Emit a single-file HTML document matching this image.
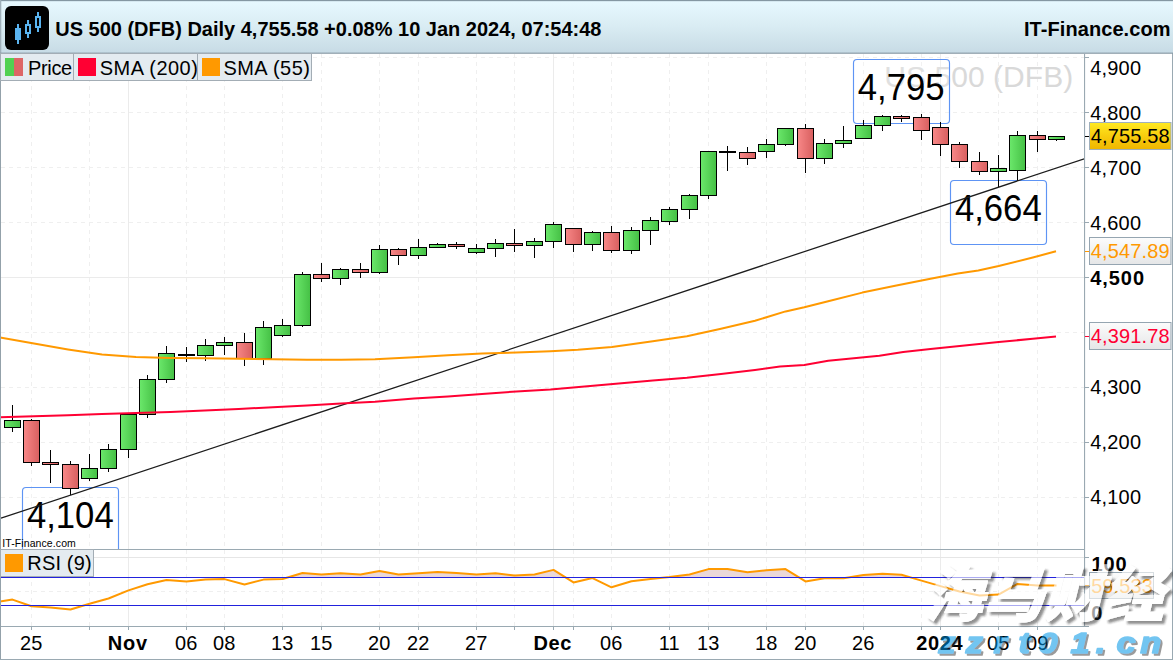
<!DOCTYPE html>
<html lang="en"><head><meta charset="utf-8"><title>US 500 (DFB) Daily</title>
<style>
html,body{margin:0;padding:0;background:#fff;}
body{width:1173px;height:660px;overflow:hidden;position:relative;font-family:"Liberation Sans", "Noto Sans CJK SC", sans-serif;}
svg{display:block;position:absolute;left:0;top:0;}
svg text{font-family:"Liberation Sans", "Noto Sans CJK SC", sans-serif;white-space:pre;}
</style></head><body>
<svg width="1173" height="660" viewBox="0 0 1173 660">
<defs>
<linearGradient id="hdr" x1="0" y1="0" x2="0" y2="1"><stop offset="0" stop-color="#e7f9ff"/><stop offset="0.5" stop-color="#d9ecf3"/><stop offset="1" stop-color="#c7dbe5"/></linearGradient>
<linearGradient id="gg" x1="0" y1="0" x2="1" y2="0"><stop offset="0" stop-color="#6be86b"/><stop offset="1" stop-color="#45c045"/></linearGradient>
<linearGradient id="rg" x1="0" y1="0" x2="1" y2="0"><stop offset="0" stop-color="#f88888"/><stop offset="1" stop-color="#d85f5f"/></linearGradient>
<linearGradient id="gold" x1="0" y1="0" x2="0" y2="1"><stop offset="0" stop-color="#ffea22"/><stop offset="0.5" stop-color="#f8cd0e"/><stop offset="1" stop-color="#efb600"/></linearGradient>
<linearGradient id="lbl" x1="0" y1="0" x2="0" y2="1"><stop offset="0" stop-color="#fcfcfc"/><stop offset="1" stop-color="#e5e6e7"/></linearGradient>
<clipPath id="mainclip"><rect x="0" y="54" width="1085" height="495"/></clipPath>
<clipPath id="rsiclip"><rect x="0" y="550" width="1085" height="77"/></clipPath>
<filter id="ds" x="-5%" y="-10%" width="115%" height="130%"><feGaussianBlur in="SourceAlpha" stdDeviation="1" result="b"/><feOffset in="b" dx="2.5" dy="2.5" result="o"/><feComposite in="o" in2="SourceAlpha" operator="out" result="so"/><feFlood flood-color="#202020" flood-opacity="0.5"/><feComposite in2="so" operator="in" result="sh"/><feFlood flood-color="#ffffff" flood-opacity="0.62"/><feComposite in2="SourceAlpha" operator="in" result="wt"/><feMerge><feMergeNode in="sh"/><feMergeNode in="wt"/></feMerge></filter>
<filter id="ds2" x="-5%" y="-10%" width="115%" height="140%"><feGaussianBlur in="SourceAlpha" stdDeviation="0.7"/><feOffset dx="1.6" dy="1.6" result="o"/><feFlood flood-color="#333" flood-opacity="0.9"/><feComposite in2="o" operator="in"/><feMerge><feMergeNode/><feMergeNode in="SourceGraphic"/></feMerge></filter>
</defs>
<rect x="0" y="0" width="1173" height="660" fill="#fff"/>

<g id="grid" shape-rendering="crispEdges">
<line x1="1" y1="57.5" x2="1085" y2="57.5" stroke="#efefef" stroke-width="1" stroke-dasharray="4 4"/>
<line x1="1" y1="112.5" x2="1085" y2="112.5" stroke="#efefef" stroke-width="1" stroke-dasharray="4 4"/>
<line x1="1" y1="167.5" x2="1085" y2="167.5" stroke="#efefef" stroke-width="1" stroke-dasharray="4 4"/>
<line x1="1" y1="222.5" x2="1085" y2="222.5" stroke="#efefef" stroke-width="1" stroke-dasharray="4 4"/>
<line x1="1" y1="277.5" x2="1085" y2="277.5" stroke="#ebebeb" stroke-width="1"/>
<line x1="1" y1="332.5" x2="1085" y2="332.5" stroke="#efefef" stroke-width="1" stroke-dasharray="4 4"/>
<line x1="1" y1="387.5" x2="1085" y2="387.5" stroke="#efefef" stroke-width="1" stroke-dasharray="4 4"/>
<line x1="1" y1="442.5" x2="1085" y2="442.5" stroke="#efefef" stroke-width="1" stroke-dasharray="4 4"/>
<line x1="1" y1="497.5" x2="1085" y2="497.5" stroke="#efefef" stroke-width="1" stroke-dasharray="4 4"/>
<line x1="31.5" y1="54" x2="31.5" y2="627" stroke="#efefef" stroke-width="1" stroke-dasharray="4 4"/>
<line x1="89.5" y1="54" x2="89.5" y2="627" stroke="#efefef" stroke-width="1" stroke-dasharray="4 4"/>
<line x1="128.5" y1="54" x2="128.5" y2="627" stroke="#ebebeb" stroke-width="1"/>
<line x1="186.5" y1="54" x2="186.5" y2="627" stroke="#efefef" stroke-width="1" stroke-dasharray="4 4"/>
<line x1="224.5" y1="54" x2="224.5" y2="627" stroke="#efefef" stroke-width="1" stroke-dasharray="4 4"/>
<line x1="282.5" y1="54" x2="282.5" y2="627" stroke="#efefef" stroke-width="1" stroke-dasharray="4 4"/>
<line x1="321.5" y1="54" x2="321.5" y2="627" stroke="#efefef" stroke-width="1" stroke-dasharray="4 4"/>
<line x1="379.5" y1="54" x2="379.5" y2="627" stroke="#efefef" stroke-width="1" stroke-dasharray="4 4"/>
<line x1="418.5" y1="54" x2="418.5" y2="627" stroke="#efefef" stroke-width="1" stroke-dasharray="4 4"/>
<line x1="476.5" y1="54" x2="476.5" y2="627" stroke="#efefef" stroke-width="1" stroke-dasharray="4 4"/>
<line x1="514.5" y1="54" x2="514.5" y2="627" stroke="#efefef" stroke-width="1" stroke-dasharray="4 4"/>
<line x1="553.5" y1="54" x2="553.5" y2="627" stroke="#ebebeb" stroke-width="1"/>
<line x1="573.5" y1="54" x2="573.5" y2="627" stroke="#efefef" stroke-width="1" stroke-dasharray="4 4"/>
<line x1="611.5" y1="54" x2="611.5" y2="627" stroke="#efefef" stroke-width="1" stroke-dasharray="4 4"/>
<line x1="669.5" y1="54" x2="669.5" y2="627" stroke="#efefef" stroke-width="1" stroke-dasharray="4 4"/>
<line x1="708.5" y1="54" x2="708.5" y2="627" stroke="#efefef" stroke-width="1" stroke-dasharray="4 4"/>
<line x1="766.5" y1="54" x2="766.5" y2="627" stroke="#efefef" stroke-width="1" stroke-dasharray="4 4"/>
<line x1="805.5" y1="54" x2="805.5" y2="627" stroke="#efefef" stroke-width="1" stroke-dasharray="4 4"/>
<line x1="863.5" y1="54" x2="863.5" y2="627" stroke="#efefef" stroke-width="1" stroke-dasharray="4 4"/>
<line x1="921.5" y1="54" x2="921.5" y2="627" stroke="#efefef" stroke-width="1" stroke-dasharray="4 4"/>
<line x1="940.5" y1="54" x2="940.5" y2="627" stroke="#ebebeb" stroke-width="1"/>
<line x1="998.5" y1="54" x2="998.5" y2="627" stroke="#efefef" stroke-width="1" stroke-dasharray="4 4"/>
<line x1="1037.5" y1="54" x2="1037.5" y2="627" stroke="#efefef" stroke-width="1" stroke-dasharray="4 4"/>
<line x1="1" y1="557.5" x2="1085" y2="557.5" stroke="#e6e6e6" stroke-width="1"/>
<line x1="1" y1="591.5" x2="1085" y2="591.5" stroke="#efefef" stroke-width="1" stroke-dasharray="4 4"/>
</g>
<text transform="translate(884.3,86.6) scale(1,1)" font-size="30" fill="#d9d9d9" letter-spacing="0.05">US 500 (DFB)</text>
<g clip-path="url(#mainclip)">
<rect x="853.5" y="59.5" width="96.0" height="64.0" rx="3.5" ry="3.5" fill="#fff" fill-opacity="0.2" stroke="#5e94f4" stroke-width="1.15"/>
<text transform="translate(857.7,99.5) scale(1,1.041)" font-size="34.7" fill="#000">4,795</text>
<rect x="950.5" y="180.5" width="96.0" height="64.0" rx="3.5" ry="3.5" fill="#fff" fill-opacity="0.2" stroke="#5e94f4" stroke-width="1.15"/>
<text transform="translate(954.9,220.5) scale(1,1.041)" font-size="34.7" fill="#000">4,664</text>
<rect x="22.5" y="487.5" width="96.0" height="72.5" rx="3.5" ry="3.5" fill="#fff" fill-opacity="0.2" stroke="#5e94f4" stroke-width="1.15"/>
<text transform="translate(26.9,527.6) scale(1,1.041)" font-size="34.7" fill="#000">4,104</text>
</g>
<g id="candles" shape-rendering="crispEdges" stroke="#000" stroke-width="1">
<line x1="12.5" y1="405" x2="12.5" y2="432"/>
<rect x="4.5" y="420.5" width="16" height="7" fill="url(#gg)"/>
<line x1="31.5" y1="419" x2="31.5" y2="466"/>
<rect x="23.5" y="420.5" width="16" height="42" fill="url(#rg)"/>
<line x1="50.5" y1="450" x2="50.5" y2="483"/>
<rect x="42.5" y="462.5" width="16" height="2" fill="url(#rg)"/>
<line x1="70.5" y1="461" x2="70.5" y2="495"/>
<rect x="62.5" y="464.5" width="16" height="24" fill="url(#rg)"/>
<line x1="89.5" y1="454" x2="89.5" y2="481"/>
<rect x="81.5" y="468.5" width="16" height="10" fill="url(#gg)"/>
<line x1="108.5" y1="444" x2="108.5" y2="472"/>
<rect x="100.5" y="449.5" width="16" height="19" fill="url(#gg)"/>
<line x1="128.5" y1="414" x2="128.5" y2="458"/>
<rect x="120.5" y="414.5" width="16" height="35" fill="url(#gg)"/>
<line x1="147.5" y1="375" x2="147.5" y2="418"/>
<rect x="139.5" y="379.5" width="16" height="35" fill="url(#gg)"/>
<line x1="166.5" y1="346" x2="166.5" y2="383"/>
<rect x="158.5" y="353.5" width="16" height="26" fill="url(#gg)"/>
<line x1="186.5" y1="347" x2="186.5" y2="362"/>
<line x1="178" y1="355" x2="195" y2="355" stroke-width="2"/>
<line x1="205.5" y1="339" x2="205.5" y2="361"/>
<rect x="197.5" y="345.5" width="16" height="10" fill="url(#gg)"/>
<line x1="224.5" y1="337" x2="224.5" y2="355"/>
<rect x="216.5" y="342.5" width="16" height="3" fill="url(#gg)"/>
<line x1="244.5" y1="333" x2="244.5" y2="366"/>
<rect x="236.5" y="342.5" width="16" height="16" fill="url(#rg)"/>
<line x1="263.5" y1="321" x2="263.5" y2="365"/>
<rect x="255.5" y="327.5" width="16" height="31" fill="url(#gg)"/>
<line x1="282.5" y1="319" x2="282.5" y2="337"/>
<rect x="274.5" y="325.5" width="16" height="10" fill="url(#gg)"/>
<line x1="302.5" y1="272" x2="302.5" y2="327"/>
<rect x="294.5" y="274.5" width="16" height="51" fill="url(#gg)"/>
<line x1="321.5" y1="263" x2="321.5" y2="282"/>
<rect x="313.5" y="274.5" width="16" height="4" fill="url(#rg)"/>
<line x1="340.5" y1="268" x2="340.5" y2="285"/>
<rect x="332.5" y="269.5" width="16" height="9" fill="url(#gg)"/>
<line x1="360.5" y1="263" x2="360.5" y2="278"/>
<rect x="352.5" y="269.5" width="16" height="3" fill="url(#rg)"/>
<line x1="379.5" y1="245" x2="379.5" y2="274"/>
<rect x="371.5" y="249.5" width="16" height="23" fill="url(#gg)"/>
<line x1="398.5" y1="248" x2="398.5" y2="265"/>
<rect x="390.5" y="249.5" width="16" height="6" fill="url(#rg)"/>
<line x1="418.5" y1="239" x2="418.5" y2="259"/>
<rect x="410.5" y="247.5" width="16" height="8" fill="url(#gg)"/>
<line x1="437.5" y1="243" x2="437.5" y2="247"/>
<rect x="429.5" y="244.5" width="16" height="3" fill="url(#gg)"/>
<line x1="456.5" y1="242" x2="456.5" y2="249"/>
<rect x="448.5" y="244.5" width="16" height="2" fill="url(#rg)"/>
<line x1="476.5" y1="244" x2="476.5" y2="254"/>
<rect x="468.5" y="248.5" width="16" height="4" fill="url(#gg)"/>
<line x1="495.5" y1="239" x2="495.5" y2="257"/>
<rect x="487.5" y="243.5" width="16" height="5" fill="url(#gg)"/>
<line x1="514.5" y1="229" x2="514.5" y2="252"/>
<rect x="506.5" y="243.5" width="16" height="2" fill="url(#rg)"/>
<line x1="534.5" y1="238" x2="534.5" y2="258"/>
<rect x="526.5" y="241.5" width="16" height="4" fill="url(#gg)"/>
<line x1="553.5" y1="222" x2="553.5" y2="248"/>
<rect x="545.5" y="224.5" width="16" height="17" fill="url(#gg)"/>
<line x1="573.5" y1="228" x2="573.5" y2="252"/>
<rect x="565.5" y="228.5" width="16" height="16" fill="url(#rg)"/>
<line x1="592.5" y1="231" x2="592.5" y2="251"/>
<rect x="584.5" y="232.5" width="16" height="12" fill="url(#gg)"/>
<line x1="611.5" y1="226" x2="611.5" y2="253"/>
<rect x="603.5" y="232.5" width="16" height="18" fill="url(#rg)"/>
<line x1="631.5" y1="227" x2="631.5" y2="254"/>
<rect x="623.5" y="230.5" width="16" height="20" fill="url(#gg)"/>
<line x1="650.5" y1="217" x2="650.5" y2="245"/>
<rect x="642.5" y="220.5" width="16" height="10" fill="url(#gg)"/>
<line x1="669.5" y1="207" x2="669.5" y2="225"/>
<rect x="661.5" y="209.5" width="16" height="12" fill="url(#gg)"/>
<line x1="689.5" y1="194" x2="689.5" y2="219"/>
<rect x="681.5" y="195.5" width="16" height="14" fill="url(#gg)"/>
<line x1="708.5" y1="151" x2="708.5" y2="199"/>
<rect x="700.5" y="151.5" width="16" height="44" fill="url(#gg)"/>
<line x1="727.5" y1="146" x2="727.5" y2="171"/>
<line x1="719" y1="152" x2="736" y2="152" stroke-width="2"/>
<line x1="747.5" y1="147" x2="747.5" y2="165"/>
<rect x="739.5" y="152.5" width="16" height="6" fill="url(#rg)"/>
<line x1="766.5" y1="139" x2="766.5" y2="158"/>
<rect x="758.5" y="144.5" width="16" height="7" fill="url(#gg)"/>
<line x1="785.5" y1="128" x2="785.5" y2="146"/>
<rect x="777.5" y="128.5" width="16" height="16" fill="url(#gg)"/>
<line x1="805.5" y1="124" x2="805.5" y2="173"/>
<rect x="797.5" y="128.5" width="16" height="30" fill="url(#rg)"/>
<line x1="824.5" y1="139" x2="824.5" y2="164"/>
<rect x="816.5" y="143.5" width="16" height="15" fill="url(#gg)"/>
<line x1="843.5" y1="126" x2="843.5" y2="148"/>
<rect x="835.5" y="140.5" width="16" height="3" fill="url(#gg)"/>
<line x1="863.5" y1="120" x2="863.5" y2="138"/>
<rect x="855.5" y="125.5" width="16" height="13" fill="url(#gg)"/>
<line x1="882.5" y1="115" x2="882.5" y2="131"/>
<rect x="874.5" y="116.5" width="16" height="9" fill="url(#gg)"/>
<line x1="901.5" y1="115" x2="901.5" y2="122"/>
<rect x="893.5" y="116.5" width="16" height="2" fill="url(#rg)"/>
<line x1="921.5" y1="114" x2="921.5" y2="140"/>
<rect x="913.5" y="117.5" width="16" height="13" fill="url(#rg)"/>
<line x1="940.5" y1="122" x2="940.5" y2="156"/>
<rect x="932.5" y="127.5" width="16" height="17" fill="url(#rg)"/>
<line x1="959.5" y1="142" x2="959.5" y2="168"/>
<rect x="951.5" y="144.5" width="16" height="17" fill="url(#rg)"/>
<line x1="979.5" y1="152" x2="979.5" y2="175"/>
<rect x="971.5" y="161.5" width="16" height="10" fill="url(#rg)"/>
<line x1="998.5" y1="155" x2="998.5" y2="187"/>
<rect x="990.5" y="168.5" width="16" height="3" fill="url(#gg)"/>
<line x1="1017.5" y1="131" x2="1017.5" y2="181"/>
<rect x="1009.5" y="135.5" width="16" height="35" fill="url(#gg)"/>
<line x1="1037.5" y1="131" x2="1037.5" y2="152"/>
<rect x="1029.5" y="135.5" width="16" height="4" fill="url(#rg)"/>
<line x1="1056.5" y1="136" x2="1056.5" y2="141"/>
<rect x="1048.5" y="136.5" width="16" height="3" fill="url(#gg)"/>
</g>
<g clip-path="url(#mainclip)" fill="none">
<line x1="1" y1="518.2" x2="1085" y2="158.5" stroke="#1c1c1c" stroke-width="1.25"/>
<polyline stroke="#ff9900" stroke-width="2" stroke-linejoin="round" points="0,337.5 34,343.6 68,349.4 102,354.6 136,357 170.5,358 204.6,358.3 238.7,358.7 272.8,359.3 307,359.7 341,359.7 375,359.3 414,357.3 448,355.3 482,353.6 516.4,352.5 550.5,351.2 577.8,349.8 611.9,347.1 652.8,341.3 686.9,336.2 721,328.7 755,320.8 785.6,311.4 804.3,307.3 828.2,301.2 862.3,292.6 896.4,285.5 930.5,278.7 957.8,273.5 978.3,270.5 998.7,266 1032.8,257.5 1056,251.3"/>
<polyline stroke="#ff0033" stroke-width="2" stroke-linejoin="round" points="0,417.3 34,416.3 68,415.3 102,413.9 136,413 170.5,411.9 204.6,410.5 238.7,408.9 272.8,407.2 307,405.5 341,403.6 375,401.7 414,398.6 448,396.5 482,394.1 516.4,391.4 550.5,389.4 584.6,386.6 618.7,383.6 652.8,380.5 686.9,377.8 721,374 755,369.9 780,366.5 804.3,364.9 828.2,360.8 879.4,355.7 903.2,352 930.5,348.9 964.6,345.5 998.7,342.1 1032.8,338.7 1056,336.5"/>
</g>
<g clip-path="url(#rsiclip)">
<polygon fill="#ead8d8" stroke="none" points="0,577.5 0.0,577.5 12.5,577.5 31.5,577.5 50.5,577.5 70.5,577.5 89.5,577.5 108.5,577.5 128.5,577.5 147.5,577.5 166.5,577.5 186.5,577.5 205.5,577.5 224.5,577.5 244.5,577.5 263.5,577.5 282.5,577.5 287.5,577.5 302.5,573.0 321.5,574.5 340.5,573.2 360.5,574.5 379.5,570.9 398.5,574.5 418.5,573.2 437.5,571.9 456.5,573.0 476.5,574.5 495.5,573.2 514.5,575.5 534.5,574.5 553.5,569.9 565.7,577.5 573.5,577.5 592.5,577.5 611.5,577.5 631.5,577.5 650.5,577.5 665.7,577.5 669.5,577.1 689.5,574.5 708.5,569.1 727.5,569.1 747.5,572.2 766.5,570.2 785.5,569.1 799.2,577.5 805.5,577.5 824.5,577.5 843.5,577.5 848.3,577.5 863.5,575.0 882.5,573.7 901.5,574.8 910.8,577.5 921.5,577.5 940.5,577.5 959.5,577.5 979.5,577.5 998.5,577.5 1017.5,577.5 1037.5,577.5 1056.5,577.5 1056.5,577.5"/>
<polyline fill="none" stroke="#ff9900" stroke-width="2" stroke-linejoin="round" points="0.0,601.6 12.5,599.6 31.5,606.2 50.5,607.5 70.5,609.5 89.5,603.7 108.5,598.5 128.5,590.4 147.5,584.2 166.5,580.1 186.5,581.4 205.5,579.4 224.5,579.1 244.5,584.5 263.5,579.6 282.5,579.0 302.5,573.0 321.5,574.5 340.5,573.2 360.5,574.5 379.5,570.9 398.5,574.5 418.5,573.2 437.5,571.9 456.5,573.0 476.5,574.5 495.5,573.2 514.5,575.5 534.5,574.5 553.5,569.9 573.5,582.4 592.5,578.1 611.5,587.3 631.5,581.2 650.5,579.1 669.5,577.1 689.5,574.5 708.5,569.1 727.5,569.1 747.5,572.2 766.5,570.2 785.5,569.1 805.5,581.4 824.5,578.3 843.5,578.3 863.5,575.0 882.5,573.7 901.5,574.8 921.5,580.6 940.5,586.1 959.5,591.5 979.5,595.5 998.5,594.6 1017.5,583.9 1037.5,585.5 1056.5,585.5"/>
<line x1="1" y1="577.5" x2="1085" y2="577.5" stroke="#2222dd" stroke-width="1" shape-rendering="crispEdges"/>
<line x1="1" y1="605.5" x2="1085" y2="605.5" stroke="#2222dd" stroke-width="1" shape-rendering="crispEdges"/>
</g>
<g shape-rendering="crispEdges">
<rect x="0" y="549" width="1085" height="1" fill="#9aa9b2"/>
<rect x="0" y="626" width="1086" height="1" fill="#9aa9b2"/>
<rect x="1084" y="54" width="1.1" height="573" fill="#9aa9b2" shape-rendering="auto"/>
<rect x="0" y="0" width="1" height="660" fill="#93a1aa"/>
<rect x="0" y="658.5" width="1173" height="1.5" fill="#9aa9b2"/>
<rect x="1171.5" y="0" width="1.5" height="660" fill="#9aa9b2"/>
<rect x="1085" y="57" width="4" height="1" fill="#9aa9b2"/>
<rect x="1085" y="112" width="4" height="1" fill="#9aa9b2"/>
<rect x="1085" y="167" width="4" height="1" fill="#9aa9b2"/>
<rect x="1085" y="222" width="4" height="1" fill="#9aa9b2"/>
<rect x="1085" y="277" width="4" height="1" fill="#9aa9b2"/>
<rect x="1085" y="387" width="4" height="1" fill="#9aa9b2"/>
<rect x="1085" y="442" width="4" height="1" fill="#9aa9b2"/>
<rect x="1085" y="497" width="4" height="1" fill="#9aa9b2"/>
<rect x="1085" y="136" width="4" height="1" fill="#000"/>
<rect x="1085" y="251" width="4" height="1" fill="#ff9900"/>
<rect x="1085" y="336" width="4" height="1" fill="#ff0033"/>
<rect x="1085" y="557" width="4" height="1" fill="#9aa9b2"/>
<rect x="1085" y="585" width="4" height="1" fill="#ff9900"/>
<rect x="1085" y="626" width="4" height="1" fill="#9aa9b2"/>
<rect x="31" y="627" width="1" height="3" fill="#9aa9b2"/>
<rect x="89" y="627" width="1" height="3" fill="#9aa9b2"/>
<rect x="128" y="627" width="1" height="3" fill="#9aa9b2"/>
<rect x="186" y="627" width="1" height="3" fill="#9aa9b2"/>
<rect x="224" y="627" width="1" height="3" fill="#9aa9b2"/>
<rect x="282" y="627" width="1" height="3" fill="#9aa9b2"/>
<rect x="321" y="627" width="1" height="3" fill="#9aa9b2"/>
<rect x="379" y="627" width="1" height="3" fill="#9aa9b2"/>
<rect x="418" y="627" width="1" height="3" fill="#9aa9b2"/>
<rect x="476" y="627" width="1" height="3" fill="#9aa9b2"/>
<rect x="514" y="627" width="1" height="3" fill="#9aa9b2"/>
<rect x="553" y="627" width="1" height="3" fill="#9aa9b2"/>
<rect x="573" y="627" width="1" height="3" fill="#9aa9b2"/>
<rect x="611" y="627" width="1" height="3" fill="#9aa9b2"/>
<rect x="669" y="627" width="1" height="3" fill="#9aa9b2"/>
<rect x="708" y="627" width="1" height="3" fill="#9aa9b2"/>
<rect x="766" y="627" width="1" height="3" fill="#9aa9b2"/>
<rect x="805" y="627" width="1" height="3" fill="#9aa9b2"/>
<rect x="863" y="627" width="1" height="3" fill="#9aa9b2"/>
<rect x="921" y="627" width="1" height="3" fill="#9aa9b2"/>
<rect x="940" y="627" width="1" height="3" fill="#9aa9b2"/>
<rect x="998" y="627" width="1" height="3" fill="#9aa9b2"/>
<rect x="1037" y="627" width="1" height="3" fill="#9aa9b2"/>
</g>
<text transform="translate(1090.2,74.7) scale(1,1.041)" font-size="20" fill="#000" letter-spacing="0.2">4,900</text>
<text transform="translate(1090.2,119.9) scale(1,1.041)" font-size="20" fill="#000" letter-spacing="0.2">4,800</text>
<text transform="translate(1090.2,174.6) scale(1,1.041)" font-size="20" fill="#000" letter-spacing="0.2">4,700</text>
<text transform="translate(1090.2,230.0) scale(1,1.041)" font-size="20" fill="#000" letter-spacing="0.2">4,600</text>
<text transform="translate(1090.2,284.6) scale(1,1.041)" font-size="20" fill="#000" font-weight="bold" letter-spacing="0.95">4,500</text>
<text transform="translate(1090.2,394.3) scale(1,1.041)" font-size="20" fill="#000" letter-spacing="0.2">4,300</text>
<text transform="translate(1090.2,449.3) scale(1,1.041)" font-size="20" fill="#000" letter-spacing="0.2">4,200</text>
<text transform="translate(1090.2,504.2) scale(1,1.041)" font-size="20" fill="#000" letter-spacing="0.2">4,100</text>
<rect x="1089.5" y="122.5" width="81.5" height="27" fill="url(#gold)" stroke="#9fb0bd" stroke-width="1"/>
<text transform="translate(1090.7,143.0) scale(1,1.041)" font-size="20" fill="#000" letter-spacing="0.17">4,755.58</text>
<rect x="1089.5" y="237.5" width="81.5" height="27" fill="url(#lbl)" stroke="#95a5b1" stroke-width="1"/>
<text transform="translate(1090.7,258.1) scale(1,1.041)" font-size="20" fill="#ff9900" letter-spacing="0.17">4,547.89</text>
<rect x="1089.5" y="322.5" width="81.5" height="27" fill="url(#lbl)" stroke="#95a5b1" stroke-width="1"/>
<text transform="translate(1090.7,343.1) scale(1,1.041)" font-size="20" fill="#ff0033" letter-spacing="0.17">4,391.78</text>
<text transform="translate(1091.4,570.8) scale(1,1.041)" font-size="20" fill="#000" font-weight="bold" letter-spacing="0.95">100</text>
<text transform="translate(1091.2,620.3) scale(1,1.041)" font-size="20" fill="#000" font-weight="bold">0</text>
<rect x="1089.5" y="572.5" width="64" height="26" fill="url(#lbl)" stroke="#95a5b1" stroke-width="1"/>
<text transform="translate(1091.2,592.6) scale(1,1.041)" font-size="20" fill="#ff9900" letter-spacing="0.1">59.533</text>
<text transform="translate(31.2,650.3) scale(1,1.041)" font-size="20" fill="#000" text-anchor="middle">25</text>
<text transform="translate(127.79999999999998,650.3) scale(1,1.041)" font-size="20" fill="#000" font-weight="bold" text-anchor="middle" letter-spacing="0.7">Nov</text>
<text transform="translate(186.2,650.3) scale(1,1.041)" font-size="20" fill="#000" text-anchor="middle">06</text>
<text transform="translate(224.2,650.3) scale(1,1.041)" font-size="20" fill="#000" text-anchor="middle">08</text>
<text transform="translate(282.2,650.3) scale(1,1.041)" font-size="20" fill="#000" text-anchor="middle">13</text>
<text transform="translate(321.2,650.3) scale(1,1.041)" font-size="20" fill="#000" text-anchor="middle">15</text>
<text transform="translate(379.2,650.3) scale(1,1.041)" font-size="20" fill="#000" text-anchor="middle">20</text>
<text transform="translate(418.2,650.3) scale(1,1.041)" font-size="20" fill="#000" text-anchor="middle">22</text>
<text transform="translate(476.2,650.3) scale(1,1.041)" font-size="20" fill="#000" text-anchor="middle">27</text>
<text transform="translate(552.8000000000001,650.3) scale(1,1.041)" font-size="20" fill="#000" font-weight="bold" text-anchor="middle" letter-spacing="0.7">Dec</text>
<text transform="translate(611.2,650.3) scale(1,1.041)" font-size="20" fill="#000" text-anchor="middle">06</text>
<text transform="translate(669.2,650.3) scale(1,1.041)" font-size="20" fill="#000" text-anchor="middle">11</text>
<text transform="translate(708.2,650.3) scale(1,1.041)" font-size="20" fill="#000" text-anchor="middle">13</text>
<text transform="translate(766.2,650.3) scale(1,1.041)" font-size="20" fill="#000" text-anchor="middle">18</text>
<text transform="translate(805.2,650.3) scale(1,1.041)" font-size="20" fill="#000" text-anchor="middle">20</text>
<text transform="translate(863.2,650.3) scale(1,1.041)" font-size="20" fill="#000" text-anchor="middle">26</text>
<text transform="translate(939.8000000000001,650.3) scale(1,1.041)" font-size="20" fill="#000" font-weight="bold" text-anchor="middle" letter-spacing="0.7">2024</text>
<text transform="translate(998.2,650.3) scale(1,1.041)" font-size="20" fill="#000" text-anchor="middle">05</text>
<text transform="translate(1037.2,650.3) scale(1,1.041)" font-size="20" fill="#000" text-anchor="middle">09</text>
<text transform="translate(2.2,546.8) scale(1,1)" font-size="10.5" fill="#000" letter-spacing="0.1">IT-Finance.com</text>
<rect x="0.5" y="549.5" width="93" height="27" fill="#e4ebf0" stroke="#a3adb5" stroke-width="1"/>
<rect x="5" y="554" width="18" height="18" fill="#ff9900"/>
<text transform="translate(27.3,570.4) scale(1,1.041)" font-size="20" fill="#000" letter-spacing="0.17">RSI (9)</text>
<rect x="0" y="0" width="1173" height="53" fill="url(#hdr)"/>
<rect x="0" y="0" width="1173" height="1" fill="#8497a2"/><rect x="0" y="1" width="1173" height="1" fill="#c9dde6" fill-opacity="0.6"/>
<rect x="0" y="0" width="1.3" height="54" fill="#9fb0ba"/>
<rect x="0" y="52.6" width="1173" height="1.2" fill="#8a9ca7"/>
<rect x="5" y="6" width="44" height="44" rx="6" ry="6" fill="#000"/>
<g fill="#5ab4f0" shape-rendering="crispEdges">
<rect x="17" y="24" width="2" height="20"/><rect x="15" y="28" width="6" height="12"/>
<rect x="27" y="20" width="2" height="18"/><rect x="25" y="24" width="6" height="10"/>
<rect x="37" y="12" width="2" height="20"/><rect x="35" y="16" width="6" height="12"/>
<rect x="27" y="26" width="2" height="6" fill="#000"/><rect x="37" y="18" width="2" height="8" fill="#000"/>
</g>
<text transform="translate(55.2,35.6) scale(1,1.041)" font-size="20" fill="#000" font-weight="bold">US 500 (DFB) Daily 4,755.58 +0.08% 10 Jan 2024, 07:54:48</text>
<text transform="translate(1170.6,35.6) scale(1,1.041)" font-size="20" fill="#000" font-weight="bold" text-anchor="end" letter-spacing="0.08">IT-Finance.com</text>
<rect x="0.5" y="53.5" width="73.0" height="27" fill="#e4ebf0" stroke="#a3adb5" stroke-width="1"/>
<rect x="5" y="58" width="9" height="18" fill="#52d152"/><rect x="14" y="58" width="9" height="18" fill="#dd6666"/>
<text transform="translate(28.0,74.7) scale(1,1.041)" font-size="20" fill="#000" letter-spacing="-0.35">Price</text>
<rect x="73.5" y="53.5" width="124.0" height="27" fill="#e4ebf0" stroke="#a3adb5" stroke-width="1"/>
<rect x="78" y="58" width="18" height="18" fill="#ff0033"/>
<text transform="translate(99.8,74.7) scale(1,1.041)" font-size="20" fill="#000" letter-spacing="0.45">SMA (200)</text>
<rect x="197.5" y="53.5" width="114.0" height="27" fill="#e4ebf0" stroke="#a3adb5" stroke-width="1"/>
<rect x="202" y="58" width="18" height="18" fill="#ff9900"/>
<text transform="translate(223.4,74.7) scale(1,1.041)" font-size="20" fill="#000" letter-spacing="0.45">SMA (55)</text>
<g font-style="italic" font-weight="900" filter="url(#ds)">
<text x="923.5" y="615.5" font-size="60" fill="#ffffff" stroke="#ffffff" stroke-width="1.2" stroke-linejoin="round" style="font-family:'Noto Sans CJK SC',sans-serif">海马财经</text>
</g>
<g font-style="italic" font-weight="bold" font-size="29.5" filter="url(#ds2)" opacity="0.55">
<text transform="scale(1.16,1)" x="809.14 832.59 856.47 878.02 895.34 922.84 944.66 962.59 983.02" y="653.3" fill="#0096e6" stroke="#0096e6" stroke-width="1.5" stroke-linejoin="round">zzrt01.cn</text>
</g>
</svg></body></html>
